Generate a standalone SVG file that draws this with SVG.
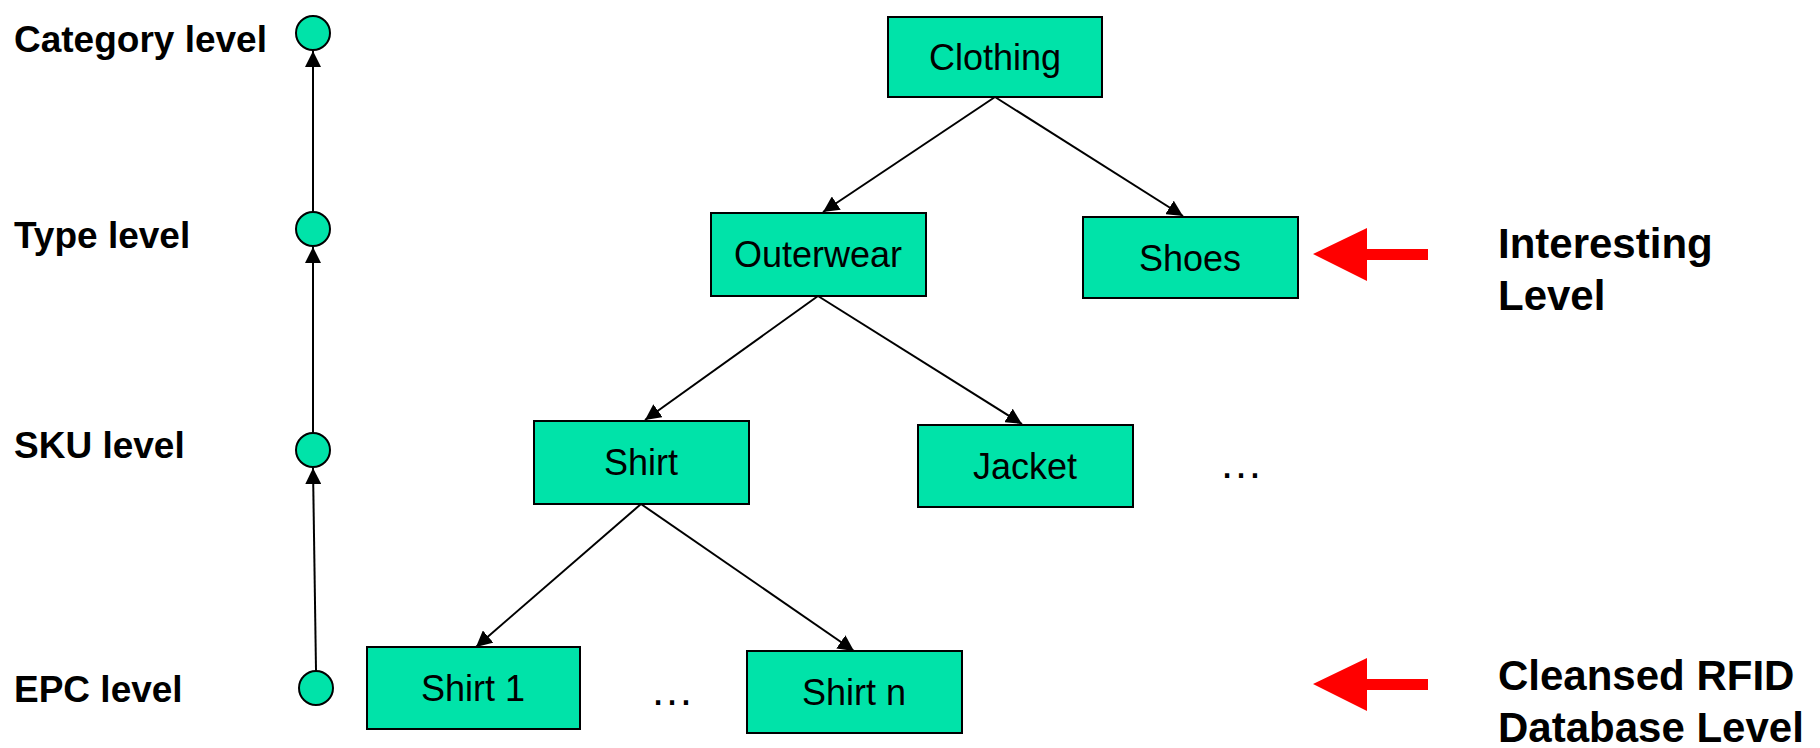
<svg xmlns="http://www.w3.org/2000/svg" width="1820" height="748" viewBox="0 0 1820 748">
<style>
.box{fill:#00E3A9;stroke:#000;stroke-width:2}
.lvl{fill:#00E3A9;stroke:#000;stroke-width:2}
.lbl{font-family:"Liberation Sans",Arial,sans-serif;font-size:36px;fill:#000;text-anchor:middle}
.dots{font-family:"Liberation Sans",Arial,sans-serif;font-size:44px;fill:#000;text-anchor:middle}
.side{font-family:"Liberation Sans",Arial,sans-serif;font-size:37px;font-weight:bold;fill:#000}
.note{font-family:"Liberation Sans",Arial,sans-serif;font-size:42px;font-weight:bold;fill:#000}
.edge{stroke:#000;stroke-width:2;fill:none;marker-end:url(#ah)}
.red{fill:#FF0000}
</style>
<defs>
<marker id="ah" viewBox="0 0 16 16" refX="16" refY="8" markerWidth="16" markerHeight="16" markerUnits="userSpaceOnUse" orient="auto">
<path d="M0,0 L16,8 L0,16 Z" fill="#000"/>
</marker>
</defs>
<rect width="1820" height="748" fill="#fff"/>
<g id="connectors">
<line class="edge" x1="995" y1="97" x2="823" y2="212"/>
<line class="edge" x1="995" y1="97" x2="1183" y2="216"/>
<line class="edge" x1="818" y1="296" x2="645" y2="420"/>
<line class="edge" x1="818" y1="296" x2="1022" y2="424"/>
<line class="edge" x1="641" y1="504" x2="476" y2="647"/>
<line class="edge" x1="641" y1="504" x2="854" y2="651"/>
<line class="edge" x1="313" y1="211" x2="313" y2="51"/>
<line class="edge" x1="313" y1="432" x2="313" y2="247"/>
<line class="edge" x1="316" y1="670" x2="313" y2="468"/>
</g>
<g id="clothing"><rect class="box" x="888" y="17" width="214" height="80"/><text class="lbl" x="995" y="70">Clothing</text></g>
<g id="outerwear"><rect class="box" x="711" y="213" width="215" height="83"/><text class="lbl" x="818" y="267">Outerwear</text></g>
<g id="shoes"><rect class="box" x="1083" y="217" width="215" height="81"/><text class="lbl" x="1190" y="271">Shoes</text></g>
<g id="shirt"><rect class="box" x="534" y="421" width="215" height="83"/><text class="lbl" x="641" y="475">Shirt</text></g>
<g id="jacket"><rect class="box" x="918" y="425" width="215" height="82"/><text class="lbl" x="1025" y="479">Jacket</text></g>
<g id="shirt1"><rect class="box" x="367" y="647" width="213" height="82"/><text class="lbl" x="473" y="701">Shirt 1</text></g>
<g id="shirtn"><rect class="box" x="747" y="651" width="215" height="82"/><text class="lbl" x="854" y="705">Shirt n</text></g>
<g id="dots1"><text class="dots" x="1241" y="478">…</text></g>
<g id="dots2"><text class="dots" x="672" y="705">…</text></g>
<g id="category-level"><circle class="lvl" cx="313" cy="33" r="17"/><text class="side" x="14" y="52">Category level</text></g>
<g id="type-level"><circle class="lvl" cx="313" cy="229" r="17"/><text class="side" x="14" y="248">Type level</text></g>
<g id="sku-level"><circle class="lvl" cx="313" cy="450" r="17"/><text class="side" x="14" y="458">SKU level</text></g>
<g id="epc-level"><circle class="lvl" cx="316" cy="688" r="17"/><text class="side" x="14" y="702">EPC level</text></g>
<g id="interesting">
<polygon class="red" points="1313,254 1367,228 1367,249 1428,249 1428,260 1367,260 1367,281"/>
<text class="note" x="1498" y="258">Interesting</text>
<text class="note" x="1498" y="310">Level</text>
</g>
<g id="cleansed">
<polygon class="red" points="1313,684 1367,658 1367,679 1428,679 1428,690 1367,690 1367,711"/>
<text class="note" x="1498" y="690">Cleansed RFID</text>
<text class="note" x="1498" y="742">Database Level</text>
</g>
</svg>
